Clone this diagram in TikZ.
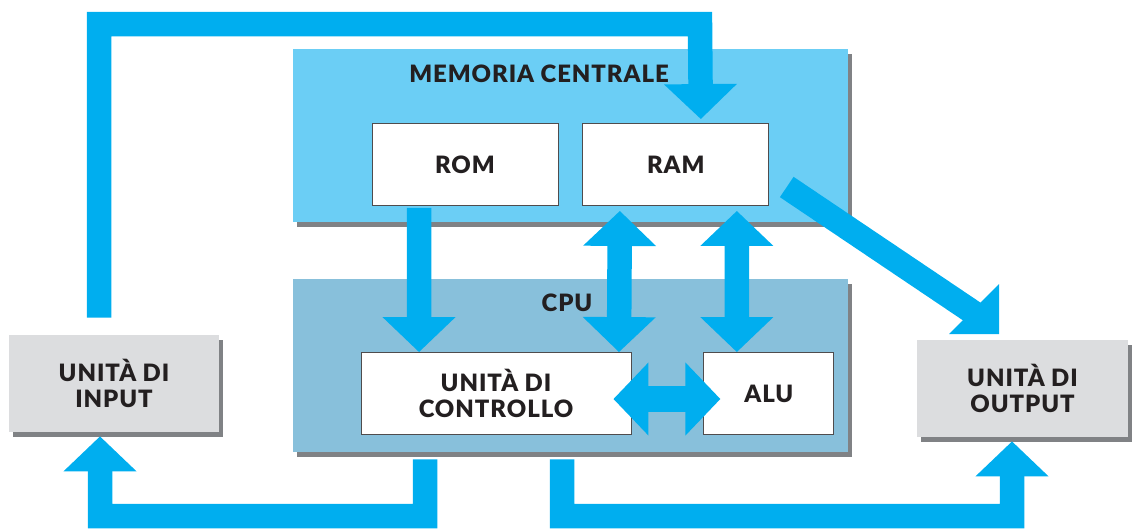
\documentclass[tikz,border=0pt]{standalone}
\usepackage{fontspec}
\setmainfont{Lato}[BoldFont={Lato Black}, BoldFeatures={LetterSpace=4}]
\usetikzlibrary{positioning,arrows.meta,shadows}
\definecolor{busblue}{HTML}{00AEEF}
\definecolor{memblue}{HTML}{6BCEF5}
\definecolor{cpublue}{HTML}{88C0DB}
\definecolor{unitgrey}{HTML}{DCDDDF}
\definecolor{shadegrey}{HTML}{808285}
\definecolor{ink}{HTML}{231F20}
\tikzset{
  txt/.style={font=\fontsize{13.6}{14.7}\selectfont\bfseries, text=ink, align=center, inner sep=0pt},
  hardshadow/.style={drop shadow={fill=shadegrey, opacity=1, shadow xshift=0.08cm, shadow yshift=-0.1cm}},
  block/.style={txt, minimum width=11.1cm, minimum height=3.46cm, hardshadow},
  cell/.style={txt, draw=ink!80, line width=0.5pt, fill=white, minimum height=1.64cm},
  unit/.style={txt, fill=unitgrey, minimum width=4.22cm, minimum height=1.94cm, hardshadow},
  bus/.style={draw=busblue, line width=0.49cm, line join=miter},
  tip/.tip={Triangle[length=0.7cm, width=1.42cm]},
}

\begin{document}
\begin{tikzpicture}[x=0.02cm, y=-0.02cm]
  \useasboundingbox (0,0) rectangle (1138,528);

  \node [block, fill=memblue] (mem) at (570.5,135.5) {};
  \node [block, fill=cpublue] (cpu) at (570.5,365.5) {};
  \node [txt] (memtitle) at (539,74) {MEMORIA CENTRALE};
  \node [txt] (cputitle) at (567,303) {CPU};

  \node [cell, minimum width=3.72cm] (rom) at (465,164.5) {ROM};
  \node [cell, minimum width=3.72cm, right=0.48cm of rom] (ram) {RAM};
  \node [cell, minimum width=5.4cm] (uc) at (496,393.5) {UNITÀ DI\\CONTROLLO};
  \node [cell, minimum width=2.6cm, right=1.44cm of uc] (alu) {ALU};

  \node [unit] (in) at (114,383.5) {UNITÀ DI\\INPUT};
  \node [unit] (out) at (1022.5,388.5) {UNITÀ DI\\OUTPUT};

  \coordinate (topbend) at (700,24);
  \coordinate (botleft) at (100,516);
  \coordinate (botright) at (1012,516);
  \coordinate (diag) at (974,313);

  \draw [bus, -tip] ([xshift=-0.3cm, yshift=0.34cm]in.north) |- (topbend)
    -- ([xshift=0.5cm, yshift=0.08cm]ram.north);
  \draw [bus, -tip] ([xshift=-0.92cm, yshift=-0.04cm]rom.south) -- ([xshift=-1.54cm]uc.north);
  \draw [bus, tip-tip] ([xshift=-1.12cm, yshift=-0.1cm]ram.south) -- ([xshift=2.46cm]uc.north);
  \draw [bus, tip-tip] ([xshift=1.22cm, yshift=-0.1cm]ram.south) -- ([xshift=-0.64cm]alu.north);
  \draw [bus, line width=0.52cm, tip-tip] ([xshift=-0.36cm, yshift=-0.11cm]uc.east)
    -- ([xshift=0.34cm, yshift=-0.11cm]alu.west);
  \draw [bus] ([xshift=0.35cm, yshift=-0.45cm]ram.east) -- (diag);
  \fill [busblue] (diag) ++(25,-29) -- ++(0,50) -- ++(-50,0) -- cycle;
  \draw [bus, -tip] ([xshift=-2.91cm, yshift=-0.14cm]cpu.south) |- (botleft)
    -- ([xshift=-0.28cm, yshift=-0.08cm]in.south);
  \draw [bus, -tip] ([xshift=-0.17cm, yshift=-0.14cm]cpu.south) |- (botright)
    -- ([xshift=-0.21cm, yshift=-0.08cm]out.south);
\end{tikzpicture}
\end{document}
